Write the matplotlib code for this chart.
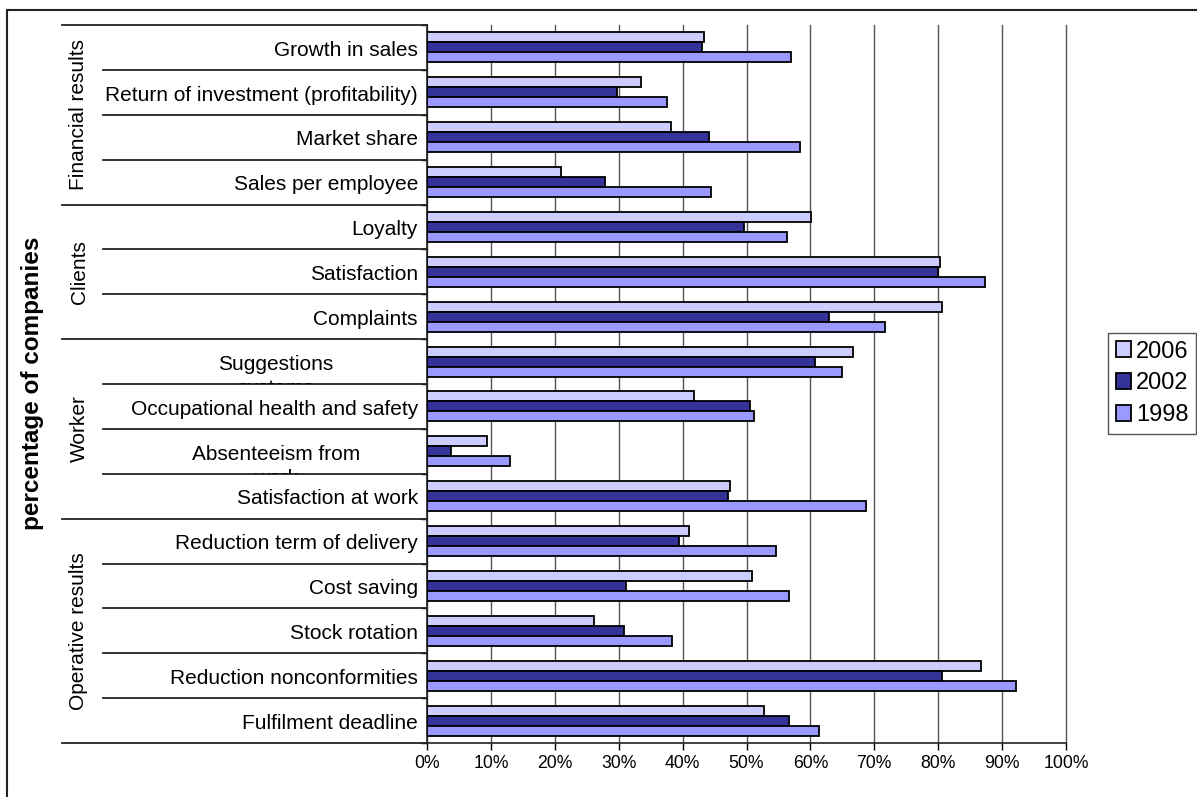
"""Horizontal grouped bars: share of companies measuring each indicator,
grouped by area, for 2006 / 2002 / 1998."""
import numpy as np
import matplotlib
matplotlib.use("Agg")
import matplotlib.pyplot as plt
from matplotlib.lines import Line2D
from matplotlib.ticker import PercentFormatter
from matplotlib.transforms import Bbox, TransformedBbox

plt.rcParams["font.family"] = ["Liberation Sans", "DejaVu Sans"]

groups = ["Financial results", "Clients", "Worker", "Operative results"]
group_sizes = [4, 3, 4, 5]
categories = [
    "Growth in sales", "Return of investment (profitability)", "Market share",
    "Sales per employee",
    "Loyalty", "Satisfaction", "Complaints",
    "Suggestions systems", "Occupational health and safety",
    "Absenteeism from work", "Satisfaction at work",
    "Reduction term of delivery", "Cost saving", "Stock rotation",
    "Reduction nonconformities", "Fulfilment deadline",
]
# long labels wrap onto a second line that the next row hides
wrapped = {
    "Suggestions systems": ("Suggestions", "systems"),
    "Absenteeism from work": ("Absenteeism from", "work"),
}

years = ["2006", "2002", "1998"]
pct_2006 = [43.4, 33.5, 38.2, 20.9, 60.1, 80.3, 80.6,
            66.7, 41.8, 9.4, 47.4, 41.0, 50.8, 26.1, 86.7, 52.7]
pct_2002 = [43.1, 29.8, 44.1, 27.9, 49.6, 80.0, 62.9,
            60.7, 50.5, 3.8, 47.1, 39.4, 31.1, 30.8, 80.6, 56.7]
pct_1998 = [57.0, 37.5, 58.3, 44.4, 56.4, 87.3, 71.6,
            65.0, 51.1, 13.0, 68.7, 54.6, 56.7, 38.4, 92.2, 61.4]
colors = ["#CCCCFF", "#333399", "#9999FF"]

W, H = 1197, 797
fig = plt.figure(figsize=(W / 100, H / 100), dpi=100)

px_l, px_r, px_t, px_b = 427, 1066, 25, 743
ax = fig.add_axes([px_l / W, 1 - px_b / H, (px_r - px_l) / W, (px_b - px_t) / H])

n = len(categories)
pos = np.arange(n) + 0.5
h = 1 / 4.5
for k, vals in enumerate([pct_2006, pct_2002, pct_1998]):
    ax.barh(pos + (k - 1) * h, np.array(vals) / 100, height=h,
            color=colors[k], edgecolor="black", linewidth=1.3,
            label=years[k], zorder=3)

ax.set_ylim(n, 0)
ax.set_xlim(0, 1)
ax.set_axisbelow(True)
ax.grid(axis="x", color="#555555", linewidth=1.0)
ax.set_yticks(np.arange(n + 1))
ax.set_yticklabels([])
ax.set_xticks(np.arange(0, 1.01, 0.1))
ax.xaxis.set_major_formatter(PercentFormatter(1.0, decimals=0))
ax.tick_params(axis="x", length=5, width=1, pad=4, labelsize=12.7, colors="black")
ax.tick_params(axis="y", length=4, width=1, color="black")
for gl in ax.get_xgridlines():
    gl.set_clip_on(False)
ax.spines["top"].set_visible(False)
ax.spines["right"].set_visible(False)
for s in ("left", "bottom"):
    ax.spines[s].set_linewidth(1.2)
    ax.spines[s].set_color("#222222")

# label panel to the left of the bars, in pixel-like x units
lab = fig.add_axes([62 / W, 1 - px_b / H, (px_l - 62) / W, (px_b - px_t) / H])
lab.set_xlim(62, px_l)
lab.set_ylim(n, 0)
lab.axis("off")

bounds = np.cumsum([0] + group_sizes)
for b in range(n + 1):
    x0 = 62 if b in bounds else 103
    lab.plot([x0, px_l], [b, b], color="#222222", lw=1.3, clip_on=False)

for i, name in enumerate(categories):
    yc = i + 0.5 + 0.06
    if name in wrapped:
        clip = TransformedBbox(Bbox.from_extents(0, 1 - (i + 1) / n, 1, 1 - i / n),
                               lab.transAxes)
        for j, line in enumerate(wrapped[name]):
            t = lab.text(276, yc + j * 0.54, line, ha="center", va="center",
                         fontsize=15)
            t.set_clip_box(clip)
            t.set_clip_on(True)
    else:
        lab.text(418, yc, name, ha="right", va="center", fontsize=15)

for g, name in enumerate(groups):
    lab.text(79, (bounds[g] + bounds[g + 1]) / 2, name, rotation=90,
             ha="center", va="center", fontsize=15)

fig.text(33 / W, 1 - 383 / H, "percentage of companies", rotation=90,
         ha="center", va="center", fontsize=17.5, fontweight="bold")

leg = ax.legend(loc="upper left", bbox_to_anchor=(1108 / W, 1 - 333 / H),
                bbox_transform=fig.transFigure, fontsize=17, frameon=True,
                fancybox=False, edgecolor="#555555", framealpha=1,
                handlelength=0.65, handleheight=0.65, handletextpad=0.22,
                labelspacing=0.42, borderpad=0.32, borderaxespad=0)
leg.get_frame().set_linewidth(1.0)

# chart-area border (left and top edges fall inside the image)
bx, by = 7 / W, 1 - 10 / H
fig.add_artist(Line2D([bx, bx], [0, by], color="#222222", lw=1.5))
fig.add_artist(Line2D([bx, 1], [by, by], color="#222222", lw=1.5))

fig.savefig("out.png", dpi=100)
